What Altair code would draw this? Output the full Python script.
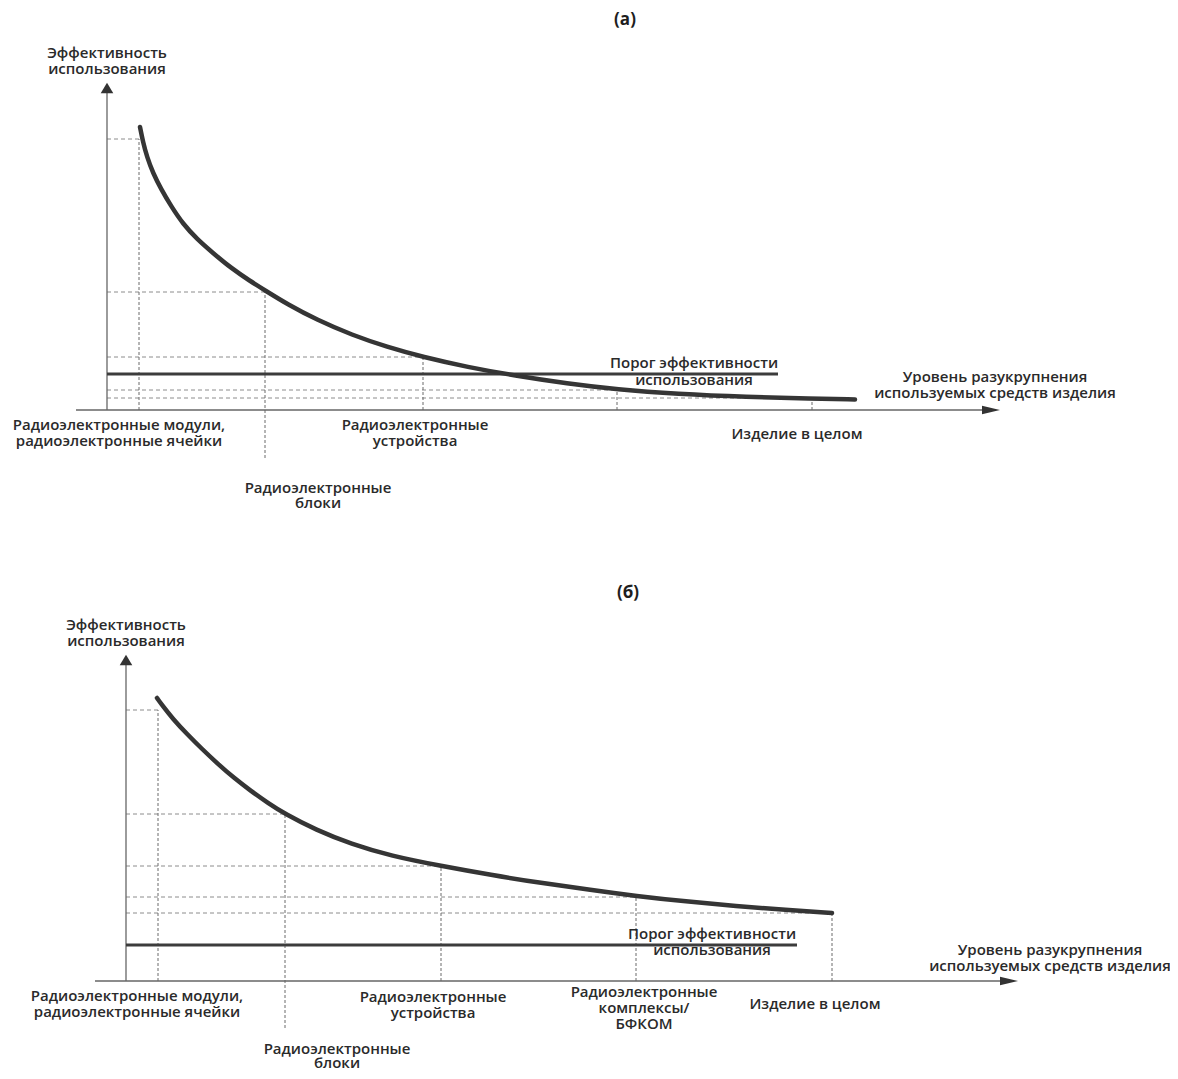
import altair as alt
import pandas as pd

FONT = "Open Sans"

# ---------------- Panel (a) ----------------
A_CURVE_X = [33, 36, 40, 46, 54, 64, 76, 90, 106, 124, 143, 159, 180, 210, 245, 280, 316, 360, 410, 460, 510, 570, 640, 705, 748]
A_CURVE_Y = [283, 268, 253, 237, 221, 204, 186, 171, 157, 142, 129, 119, 106, 90, 75, 63, 53, 43, 34, 26.5, 20.5, 16, 13, 11.5, 10.5]
A_LEVEL_X = [32, 158, 316, 510, 705]
A_LEVEL_Y = [271, 118, 53, 20, 12]
A_LEVEL_LOW = [0, -48, 0, 0, 0]
A_THRESHOLD = 36
A_THRESHOLD_END = 671
A_AXIS_X = [-31, 884]
A_AXIS_Y_TOP = 322
A_TEXT = ["(a)", "Эффективность", "использования",
          "Радиоэлектронные модули,", "радиоэлектронные ячейки",
          "Радиоэлектронные", "устройства",
          "Радиоэлектронные", "блоки",
          "Порог эффективности", "использования",
          "Уровень разукрупнения", "используемых средств изделия",
          "Изделие в целом"]
A_TEXT_X = [518, 0, 0, 12, 12, 308, 308, 211, 211, 587, 587, 888, 888, 690]
A_TEXT_Y = [390, 357, 341, -15, -31, -15, -31, -78, -93, 47, 30, 33, 17, -24]
A_BOLD = [True] + [False] * 13

# ---------------- Panel (б) ----------------
B_CURVE_X = [31, 36, 47, 61, 76, 92, 108, 125, 142, 159, 190, 225, 265, 315, 365, 415, 465, 510, 560, 610, 660, 706]
B_CURVE_Y = [283, 276, 262, 247, 232, 217, 203, 190, 178, 167, 151, 137, 125, 115, 106, 98, 91, 85, 79.5, 75, 71, 68]
B_LEVEL_X = [32, 159, 315, 510, 706]
B_LEVEL_Y = [271, 167, 115, 84, 68]
B_LEVEL_LOW = [0, -47, 0, 0, 0]
B_THRESHOLD = 36
B_THRESHOLD_END = 671
B_AXIS_X = [-31, 883]
B_AXIS_Y_TOP = 321
B_TEXT = ["(б)", "Эффективность", "использования",
          "Радиоэлектронные модули,", "радиоэлектронные ячейки",
          "Радиоэлектронные", "устройства",
          "Радиоэлектронные", "блоки",
          "Радиоэлектронные", "комплексы/", "БФКОМ",
          "Изделие в целом",
          "Порог эффективности", "использования",
          "Уровень разукрупнения", "используемых средств изделия"]
B_TEXT_X = [502, 0, 0, 11, 11, 307, 307, 211, 211, 518, 518, 518, 689, 586, 586, 924, 924]
B_TEXT_Y = [388, 356, 340, -15, -31, -16, -32, -68, -82, -11, -27, -43, -23, 47, 31, 31, 15]
B_BOLD = [True] + [False] * 16


def panel(curve_x, curve_y, level_x, level_y, level_low, thr, thr_end,
          axis_x, axis_top, texts, text_x, text_y, bold, x_dom, y_dom, height):
    xs = alt.Scale(domain=x_dom, nice=False, zero=False)
    ys = alt.Scale(domain=y_dom, nice=False, zero=False)

    def X(f):
        return alt.X(f, type="quantitative", scale=xs, axis=None)

    def Y(f):
        return alt.Y(f, type="quantitative", scale=ys, axis=None)

    lv = pd.DataFrame({"x0": [0] * len(level_x), "x": level_x, "y": level_y, "low": level_low})
    hdash = alt.Chart(lv).mark_rule(color="#8c8c8c", strokeWidth=1, strokeDash=[4, 3], clip=True).encode(
        x=X("x0"), x2="x", y=Y("y"))
    vdash = alt.Chart(lv).mark_rule(color="#6a6a6a", strokeWidth=1, strokeDash=[3, 2], clip=True).encode(
        x=X("x"), y=Y("low"), y2="y")

    ax = pd.DataFrame({"x": [0, axis_x[0]], "x2": [0, axis_x[1]], "y": [0, 0], "y2": [axis_top, 0]})
    axes = alt.Chart(ax).mark_rule(color="#666666", strokeWidth=1.3, clip=True).encode(
        x=X("x"), x2="x2", y=Y("y"), y2="y2")

    up = alt.Chart(pd.DataFrame({"x": [0], "y": [axis_top]})).mark_point(
        shape="M0,-1L1.2,1L-1.2,1Z", size=110, filled=True, color="#333333", opacity=1, clip=True
    ).encode(x=X("x"), y=Y("y"))
    right = alt.Chart(pd.DataFrame({"x": [axis_x[1]], "y": [0]})).mark_point(
        shape="M1,0L-1,-0.47L-1,0.47Z", size=324, filled=True, color="#333333", opacity=1, clip=True
    ).encode(x=X("x"), y=Y("y"))

    th = pd.DataFrame({"x": [0], "x2": [thr_end], "y": [thr]})
    threshold = alt.Chart(th).mark_rule(color="#3c3c3c", strokeWidth=3, clip=True).encode(
        x=X("x"), x2="x2", y=Y("y"))

    cv = pd.DataFrame({"x": curve_x, "y": curve_y, "o": list(range(len(curve_x)))})
    curve = alt.Chart(cv).mark_line(color="#353535", strokeWidth=4.5, strokeCap="round",
                                    interpolate="basis", clip=True).encode(
        x=X("x"), y=Y("y"), order="o:Q")

    tx = pd.DataFrame({"x": text_x, "y": text_y, "t": texts, "b": bold})
    norm = alt.Chart(tx[~tx["b"]]).mark_text(font=FONT, fontSize=15, fontWeight=600, color="#2a2a2a",
                                             align="center", baseline="middle", clip=True).encode(
        x=X("x"), y=Y("y"), text="t:N")
    title = alt.Chart(tx[tx["b"]]).mark_text(font=FONT, fontSize=17, fontWeight="bold", color="#1e1e1e",
                                             align="center", baseline="middle", clip=True).encode(
        x=X("x"), y=Y("y"), text="t:N")

    return alt.layer(hdash, vdash, axes, threshold, curve, up, right, norm, title).properties(
        width=1162, height=height)


pa = panel(A_CURVE_X, A_CURVE_Y, A_LEVEL_X, A_LEVEL_Y, A_LEVEL_LOW, A_THRESHOLD, A_THRESHOLD_END,
           A_AXIS_X, A_AXIS_Y_TOP, A_TEXT, A_TEXT_X, A_TEXT_Y, A_BOLD,
           [-99, 1063], [-168, 402], 570)
pb = panel(B_CURVE_X, B_CURVE_Y, B_LEVEL_X, B_LEVEL_Y, B_LEVEL_LOW, B_THRESHOLD, B_THRESHOLD_END,
           B_AXIS_X, B_AXIS_Y_TOP, B_TEXT, B_TEXT_X, B_TEXT_Y, B_BOLD,
           [-118, 1044], [-90, 403], 493)

chart = alt.vconcat(pa, pb, spacing=0).properties(padding=0).configure_view(stroke=None)
chart.save("out.html", embed_options={"renderer": "svg", "actions": False})
